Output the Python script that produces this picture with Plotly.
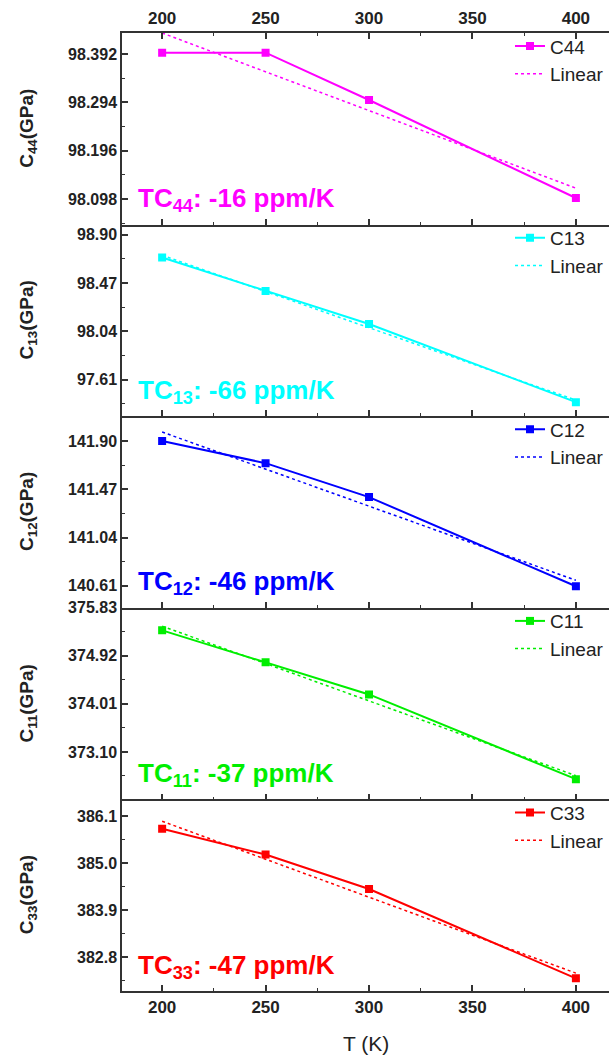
import plotly.graph_objects as go
from plotly.subplots import make_subplots

# ---------------- data ----------------
T = [200, 250, 300, 400]
T_fit = [200, 400]

C44 = [98.395, 98.395, 98.299, 98.100]
C44_fit = [98.435, 98.120]
C13 = [98.697, 98.399, 98.105, 97.410]
C13_fit = [98.717, 97.428]
C12 = [141.900, 141.702, 141.400, 140.607]
C12_fit = [141.979, 140.660]
C11 = [375.403, 374.799, 374.189, 372.583]
C11_fit = [375.483, 372.650]
C33 = [385.810, 385.204, 384.395, 382.297]
C33_fit = [385.987, 382.420]

C44_ticks = [98.098, 98.196, 98.294, 98.392]
C44_ticktext = ["98.098", "98.196", "98.294", "98.392"]
C13_ticks = [97.61, 98.04, 98.47, 98.90]
C13_ticktext = ["97.61", "98.04", "98.47", "98.90"]
C12_ticks = [140.61, 141.04, 141.47, 141.90]
C12_ticktext = ["140.61", "141.04", "141.47", "141.90"]
C11_ticks = [373.10, 374.01, 374.92, 375.83]
C11_ticktext = ["373.10", "374.01", "374.92", "375.83"]
C33_ticks = [382.8, 383.9, 385.0, 386.1]
C33_ticktext = ["382.8", "383.9", "385.0", "386.1"]

x_ticks = [200, 250, 300, 350, 400]

panels = [
    dict(name="C44", sub="44", y=C44, fit=C44_fit, ticks=C44_ticks, tt=C44_ticktext,
         rng=[98.046, 98.435], color="#FF00FF", tc="-16"),
    dict(name="C13", sub="13", y=C13, fit=C13_fit, ticks=C13_ticks, tt=C13_ticktext,
         rng=[97.285, 98.99], color="#00FFFF", tc="-66"),
    dict(name="C12", sub="12", y=C12, fit=C12_fit, ticks=C12_ticks, tt=C12_ticktext,
         rng=[140.415, 142.12], color="#0000FF", tc="-46"),
    dict(name="C11", sub="11", y=C11, fit=C11_fit, ticks=C11_ticks, tt=C11_ticktext,
         rng=[372.20, 375.8305], color="#00EE00", tc="-37"),
    dict(name="C33", sub="33", y=C33, fit=C33_fit, ticks=C33_ticks, tt=C33_ticktext,
         rng=[382.0, 386.5], color="#FF0000", tc="-47"),
]

FONT = "Liberation Sans, Arial, sans-serif"
AXC = "#333333"

fig = make_subplots(rows=5, cols=1, shared_xaxes=False, vertical_spacing=0)

W, H = 610, 1061
ml, mr, mt, mb = 122, 1, 33, 70
pw = W - ml - mr
ph = H - mt - mb

def px_x(px):
    return (px - ml) / pw

def px_y(py):
    return 1 - (py - mt) / ph

for i, p in enumerate(panels):
    r = i + 1
    leg = "legend" if i == 0 else f"legend{r}"
    fig.add_trace(go.Scatter(
        x=T, y=p["y"], mode="lines+markers", name=p["name"],
        line=dict(color=p["color"], width=2),
        marker=dict(symbol="square", size=8, color=p["color"]),
        legend=leg, cliponaxis=True,
    ), row=r, col=1)
    fig.add_trace(go.Scatter(
        x=T_fit, y=p["fit"], mode="lines", name="Linear",
        line=dict(color=p["color"], width=1.5, dash="dot"),
        legend=leg,
    ), row=r, col=1)

    top = 1 - i * 0.2
    legend_cfg = dict(
        x=px_x(510), y=top + 0.006, xanchor="left", yanchor="top",
        bgcolor="rgba(0,0,0,0)", borderwidth=0,
        font=dict(family=FONT, size=19, color="#222222"),
        tracegroupgap=0, itemwidth=30,
    )
    fig.update_layout(**{leg: legend_cfg})

    yax = "yaxis" if i == 0 else f"yaxis{r}"
    fig.update_layout(**{yax: dict(
        range=p["rng"], tickmode="array", tickvals=p["ticks"], ticktext=p["tt"],
        ticks="inside", ticklen=6, tickwidth=1.5, tickcolor=AXC,
        showline=True, linecolor=AXC, linewidth=1.5, mirror=False,
        showgrid=False, zeroline=False,
        tickfont=dict(family=FONT, size=16, color="#222222", weight="bold"),
        minor=dict(ticks="inside", ticklen=3, tickwidth=1.2, tickcolor=AXC,
                   tickvals=[(a + b) / 2 for a, b in zip(p["ticks"][:-1], p["ticks"][1:])]
                   + [p["ticks"][0] - (p["ticks"][1] - p["ticks"][0]) / 2,
                      p["ticks"][-1] + (p["ticks"][1] - p["ticks"][0]) / 2],
                   showgrid=False),
    )})

    xax = "xaxis" if i == 0 else f"xaxis{r}"
    xcfg = dict(
        range=[180.6, 416], tickmode="array", tickvals=x_ticks,
        ticktext=[str(v) for v in x_ticks],
        ticks="inside", ticklen=6, tickwidth=1.5, tickcolor=AXC,
        showline=True, linecolor=AXC, linewidth=1.5,
        showgrid=False, zeroline=False,
        tickfont=dict(family=FONT, size=17, color="#222222", weight="bold"),
        minor=dict(ticks="inside", ticklen=3, tickwidth=1.2, tickcolor=AXC,
                   dtick=25, tick0=175, showgrid=False),
        showticklabels=(i == 0 or i == 4),
    )
    if i == 0:
        xcfg.update(side="top", mirror="allticks")
    fig.update_layout(**{xax: xcfg})

    # y-axis title
    fig.add_annotation(
        xref="paper", yref=f"y{'' if i == 0 else r} domain",
        x=px_x(28), y=0.5, xanchor="center", yanchor="middle",
        text=f"<b>C<sub>{p['sub']}</sub>(GPa)</b>", textangle=-90, showarrow=False,
        font=dict(family=FONT, size=19, color="#222222"),
    )
    # TC annotation
    fig.add_annotation(
        xref="paper", yref=f"y{'' if i == 0 else r} domain",
        x=px_x(136), y=0.13, xanchor="left", yanchor="middle",
        text=f"<b>TC<sub>{p['sub']}</sub>: {p['tc']} ppm/K</b>", showarrow=False,
        font=dict(family=FONT, size=26, color=p["color"]),
    )

fig.add_annotation(
    xref="paper", yref="paper", x=px_x(366), y=px_y(1043),
    xanchor="center", yanchor="middle", text="T (K)", showarrow=False,
    font=dict(family=FONT, size=21, color="#222222"),
)

fig.update_layout(
    width=W, height=H,
    margin=dict(l=ml, r=mr, t=mt, b=mb, pad=0),
    plot_bgcolor="white", paper_bgcolor="white",
    showlegend=True,
)

fig.write_html("out.html")
